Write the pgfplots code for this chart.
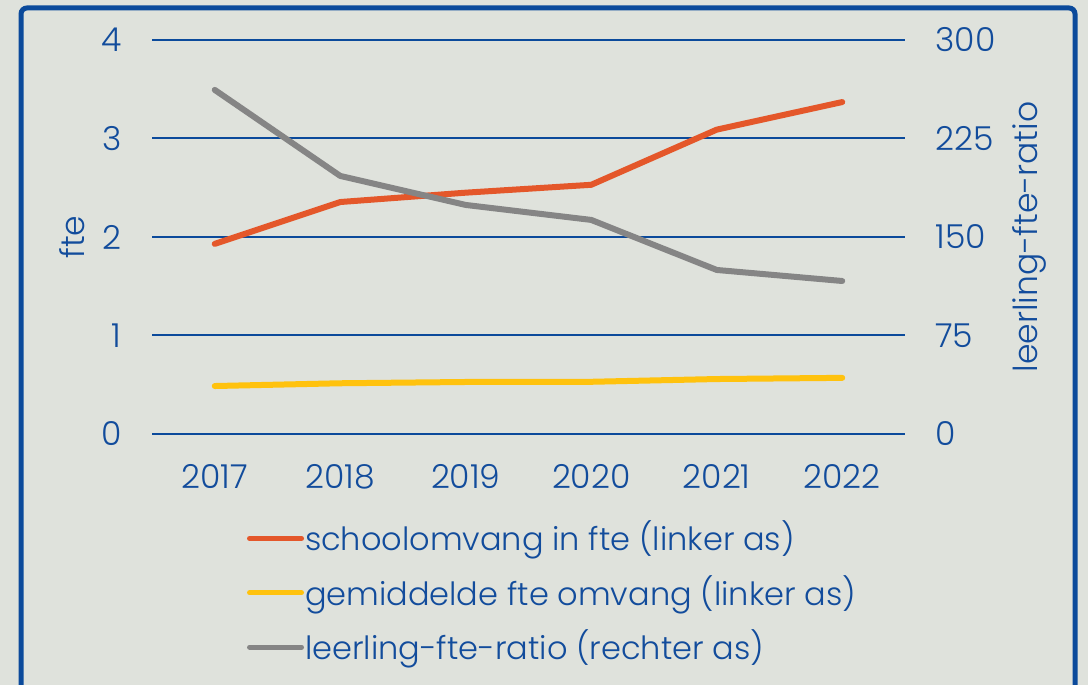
\documentclass[border=0pt]{standalone}
\usepackage{fontspec}
\setmainfont{Poppins}[UprightFont=* Light]
\usepackage{pgfplots}
\pgfplotsset{compat=1.18}
\definecolor{bg}{HTML}{DFE2DC}
\definecolor{bord}{HTML}{0B4A9B}
\definecolor{txt}{HTML}{124C9C}
\definecolor{cOrange}{HTML}{E4572A}
\definecolor{cYellow}{HTML}{FFC20E}
\definecolor{cGrey}{HTML}{858585}
\begin{document}
\fontsize{16.5}{20}\selectfont
\begin{tikzpicture}
\useasboundingbox (0,0) rectangle (544pt,342.5pt);
\clip (0,0) rectangle (544pt,342.5pt);
\fill[bg] (0,0) rectangle (544pt,342.5pt);
\draw[bord, line width=2.5pt, rounded corners=3pt] (10.5pt,-10pt) -- (10.5pt,338.5pt) -- (537.5pt,338.5pt) -- (537.5pt,-10pt);
\pgfplotsset{
  common/.style={
    at={(76pt,125.5pt)}, anchor=south west,
    width=376.5pt, height=197pt, scale only axis,
    xmin=-0.5, xmax=5.5,
    axis line style={draw=none},
    major tick length=0pt,
    tick style={draw=none},
    /pgf/number format/assume math mode=true,
    ticklabel style={font=\fontsize{16.5}{20}\selectfont, text=txt, inner sep=0pt},
    label style={font=\fontsize{16.5}{20}\selectfont, text=txt},
    every axis plot/.append style={line width=3pt, line join=round, line cap=round},
  }
}
\begin{axis}[common,
  ymin=0, ymax=4, ytick={0,1,2,3,4},
  xtick={0,1,2,3,4,5}, xticklabels={2017,2018,2019,2020,2021,2022},
  ymajorgrids, grid style={bord, line width=1pt},
  yticklabel style={anchor=east, xshift=-15pt},
  xticklabel style={anchor=north, yshift=-15pt},
  ylabel={fte},
  ylabel style={at={(axis description cs:-0.106,0.5)}, anchor=center},
]
\addplot[cOrange] coordinates {(0,1.93) (1,2.355) (2,2.45) (3,2.53) (4,3.09) (5,3.37)};
\addplot[cYellow] coordinates {(0,0.487) (1,0.515) (2,0.528) (3,0.53) (4,0.558) (5,0.57)};
\end{axis}
\begin{axis}[common,
  ymin=0, ymax=300, ytick={0,75,150,225,300},
  axis y line*=right, hide x axis,
  yticklabel style={anchor=west, xshift=15pt},
  ylabel={leerling-fte-ratio},
  ylabel style={at={(axis description cs:1.1656,0.5)}, anchor=center},
  legend style={draw=none, fill=none, inner sep=0pt, outer sep=0pt,
    at={(axis description cs:0.1262,-0.2183)}, anchor=north west,
    font=\fontsize{16}{19}\selectfont, text=txt, row sep=8.75pt,
    legend cell align=left,
    nodes={inner sep=0.5pt}},
  legend image code/.code={\draw[#1, line width=2.5pt, line cap=round] (0pt,0pt) -- (26pt,0pt);},
]
\addlegendimage{cOrange}
\addlegendentry{schoolomvang in fte (linker as)}
\addlegendimage{cYellow}
\addlegendentry{gemiddelde fte omvang (linker as)}
\addplot[cGrey] coordinates {(0,262) (1,196.5) (2,174.4) (3,163) (4,124.9) (5,116.5)};
\addlegendentry{leerling-fte-ratio (rechter as)}
\end{axis}
\end{tikzpicture}
\end{document}
